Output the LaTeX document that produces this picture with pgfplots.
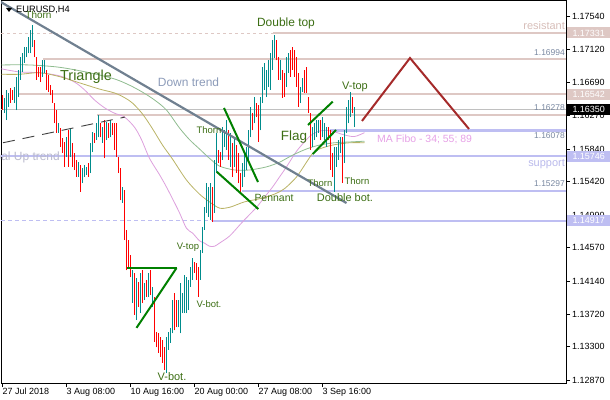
\documentclass[border=0pt]{standalone}
\usepackage{fontspec}
\setmainfont{Liberation Sans}
\usepackage{pgfplots}
\usepackage{pgfplotstable}
\pgfplotsset{compat=1.18}

\newcommand{\fs}[1]{\fontsize{#1}{#1}\selectfont}

\definecolor{bull}{RGB}{0,140,140}
\definecolor{bear}{RGB}{255,0,0}
\definecolor{levpink}{RGB}{222,200,196}
\definecolor{levlav}{RGB}{190,190,242}
\definecolor{bidgrey}{RGB}{192,192,192}
\definecolor{maplum}{RGB}{221,160,221}
\definecolor{maolive}{RGB}{185,178,100}
\definecolor{magreen}{RGB}{143,188,143}
\definecolor{trendgrey}{RGB}{112,128,144}
\definecolor{dashgrey}{RGB}{64,64,64}
\definecolor{patgreen}{RGB}{0,128,0}
\definecolor{zigzag}{RGB}{165,42,42}
\definecolor{labelgreen}{RGB}{60,110,20}
\definecolor{trendtext}{RGB}{140,155,185}
\definecolor{pricetext}{RGB}{120,135,160}
\definecolor{restext}{RGB}{215,190,185}
\definecolor{suptext}{RGB}{185,185,235}
\definecolor{matext}{RGB}{230,160,230}
\definecolor{uptext}{RGB}{185,185,205}

% H4 bars: index, low, high
\pgfplotstableread{
i lo hi
1 1.1630 1.1650
2 1.1621 1.1660
3 1.1638 1.1656
6 1.1643 1.1664
7 1.1634 1.1677
8 1.1651 1.1686
9 1.1673 1.1702
10 1.1683 1.1707
11 1.1695 1.1715
12 1.1702 1.1715
13 1.1707 1.1728
14 1.1707 1.1737
15 1.1715 1.1743
20 1.1677 1.1698
21 1.1682 1.1698
28 1.1605 1.1617
32 1.1574 1.1599
34 1.1574 1.1611
38 1.1548 1.1567
40 1.1540 1.1560
41 1.1548 1.1563
42 1.1551 1.1561
44 1.1553 1.1592
45 1.1580 1.1606
47 1.1596 1.1617
48 1.1599 1.1628
50 1.1592 1.1612
52 1.1596 1.1619
54 1.1599 1.1621
60 1.1515 1.1535
65 1.1386 1.1428
67 1.1364 1.1418
69 1.1373 1.1425
71 1.1390 1.1412
73 1.1394 1.1425
75 1.1381 1.1407
82 1.1296 1.1342
83 1.1326 1.1349
84 1.1335 1.1354
85 1.1347 1.1390
88 1.1355 1.1390
89 1.1347 1.1412
90 1.1373 1.1399
91 1.1373 1.1422
92 1.1373 1.1419
93 1.1377 1.1416
94 1.1407 1.1432
95 1.1416 1.1444
99 1.1416 1.1454
100 1.1450 1.1484
101 1.1480 1.1509
102 1.1502 1.1540
103 1.1497 1.1535
104 1.1493 1.1540
106 1.1502 1.1570
107 1.1554 1.1605
110 1.1570 1.1612
111 1.1587 1.1608
112 1.1583 1.1621
114 1.1561 1.1605
116 1.1561 1.1599
120 1.1535 1.1566
121 1.1548 1.1579
122 1.1557 1.1587
123 1.1570 1.1608
124 1.1599 1.1638
126 1.1617 1.1651
129 1.1608 1.1651
130 1.1643 1.1689
131 1.1660 1.1695
132 1.1651 1.1686
133 1.1664 1.1698
134 1.1660 1.1707
135 1.1686 1.1724
136 1.1701 1.1730
139 1.1673 1.1698
142 1.1664 1.1702
143 1.1682 1.1707
149 1.1643 1.1664
150 1.1657 1.1675
155 1.1587 1.1612
156 1.1596 1.1617
157 1.1599 1.1621
158 1.1605 1.1621
160 1.1599 1.1625
161 1.1596 1.1617
162 1.1587 1.1612
166 1.1529 1.1587
167 1.1561 1.1587
168 1.1570 1.1596
169 1.1579 1.1599
171 1.1566 1.1608
172 1.1605 1.1638
173 1.1617 1.1647
174 1.1625 1.1657
176 1.1612 1.1638
}\bulldata

\pgfplotstableread{
i lo hi
0 1.1634 1.1653
4 1.1643 1.1662
5 1.1647 1.1660
16 1.1702 1.1724
17 1.1673 1.1702
18 1.1677 1.1689
19 1.1670 1.1689
22 1.1660 1.1686
23 1.1657 1.1679
24 1.1653 1.1666
25 1.1643 1.1660
26 1.1617 1.1643
27 1.1605 1.1634
29 1.1587 1.1611
30 1.1579 1.1598
31 1.1561 1.1593
33 1.1561 1.1608
35 1.1561 1.1592
36 1.1557 1.1579
37 1.1548 1.1570
39 1.1529 1.1563
43 1.1548 1.1566
46 1.1592 1.1605
49 1.1599 1.1617
51 1.1572 1.1621
53 1.1598 1.1617
55 1.1602 1.1617
56 1.1583 1.1617
57 1.1574 1.1617
58 1.1553 1.1574
59 1.1518 1.1560
61 1.1467 1.1531
62 1.1428 1.1480
63 1.1431 1.1467
64 1.1419 1.1448
66 1.1371 1.1425
68 1.1381 1.1413
70 1.1386 1.1428
72 1.1394 1.1416
74 1.1396 1.1428
76 1.1336 1.1394
77 1.1329 1.1349
78 1.1322 1.1347
79 1.1317 1.1342
80 1.1309 1.1338
81 1.1300 1.1329
86 1.1351 1.1399
87 1.1355 1.1390
96 1.1425 1.1439
97 1.1416 1.1437
98 1.1394 1.1432
105 1.1490 1.1535
108 1.1566 1.1583
109 1.1561 1.1580
113 1.1570 1.1608
115 1.1548 1.1592
117 1.1553 1.1589
118 1.1540 1.1579
119 1.1527 1.1553
125 1.1608 1.1630
127 1.1625 1.1643
128 1.1593 1.1641
137 1.1698 1.1724
138 1.1673 1.1702
140 1.1650 1.1686
141 1.1651 1.1682
144 1.1677 1.1711
145 1.1686 1.1715
146 1.1677 1.1711
147 1.1664 1.1702
148 1.1638 1.1682
151 1.1656 1.1686
152 1.1656 1.1689
153 1.1630 1.1651
154 1.1583 1.1630
159 1.1596 1.1621
163 1.1596 1.1612
164 1.1557 1.1608
165 1.1548 1.1579
170 1.1540 1.1599
175 1.1630 1.1651
}\beardata

\begin{document}
\begin{tikzpicture}
\path[use as bounding box] (0,0) rectangle (610bp,400bp);
\begin{axis}[
  at={(1bp,17bp)}, anchor=south west,
  scale only axis, width=565bp, height=382bp,
  xmin=-0.75, xmax=281.75, ymin=1.12832, ymax=1.17742,
  clip mode=individual,
  axis line style={black, line width=1bp},
  tick align=outside,
  major tick length=4bp,
  tick style={black, line width=0.8bp},
  xtick pos=left, ytick pos=right, yticklabel pos=right,
  xtick={0,32,64,96,128,160},
  xticklabels={27 Jul 2018, 3 Aug 08:00, 10 Aug 16:00, 20 Aug 00:00, 27 Aug 08:00, 3 Sep 16:00},
  xticklabel style={anchor=north west, xshift=-1bp, font=\fs{9}, inner sep=1bp},
  ytick={1.12870,1.13300,1.13720,1.14140,1.14570,1.14990,1.15420,1.15840,1.16270,1.16690,1.17120,1.17540},
  yticklabels={1.12870,1.13300,1.13720,1.14140,1.14570,1.14990,1.15420,1.15840,1.16270,1.16690,1.17120,1.17540},
  yticklabel style={anchor=west, font=\fs{9}, inner sep=1bp, xshift=1bp},
  scaled y ticks=false,
]
% price levels
\addplot[levpink, line width=0.8bp, dash pattern=on 3bp off 3bp] coordinates {(-0.75,1.17331) (135.25,1.17331)};
\addplot[levpink, line width=2.2bp] coordinates {(135.25,1.17331) (281.75,1.17331)};
\addplot[levpink, line width=2.2bp] coordinates {(20.25,1.16994) (281.75,1.16994)};
\addplot[levpink, line width=2.2bp] coordinates {(7.75,1.16542) (281.75,1.16542)};
\addplot[levpink, line width=2.2bp] coordinates {(47.25,1.16278) (281.75,1.16278)};
\addplot[bidgrey, line width=0.8bp] coordinates {(-0.75,1.16350) (281.75,1.16350)};
\addplot[levlav, line width=2.2bp] coordinates {(163.75,1.16078) (281.75,1.16078)};
\addplot[levlav, line width=2.2bp] coordinates {(-0.75,1.15746) (281.75,1.15746)};
\addplot[levlav, line width=2.2bp] coordinates {(119.75,1.15297) (281.75,1.15297)};
\addplot[levlav, line width=0.8bp, dash pattern=on 4bp off 3bp] coordinates {(-0.75,1.14917) (104.75,1.14917)};
\addplot[levlav, line width=2.2bp] coordinates {(104.75,1.14917) (281.75,1.14917)};

% moving averages 34, 55, 89
\addplot[maplum, line width=0.8bp, smooth, tension=0.5] coordinates {
(-0.5,1.1687) (8.5,1.1683) (18.5,1.1682) (28.5,1.1678) (36,1.1670) (41,1.1660) (46,1.1647) (51,1.1637) (56,1.1630) (61,1.1625) (66,1.1612) (69.5,1.1596) (73.5,1.1572) (78.5,1.1551) (82,1.1535) (86,1.1515) (88.5,1.1502) (92,1.1482) (95,1.1476) (98.5,1.1466) (101,1.1463) (103.5,1.1459) (106,1.1459) (108.5,1.1463) (113.5,1.1472) (118.5,1.1486) (121,1.1493) (127,1.1509) (131,1.1522) (135,1.1535) (138.5,1.1548) (142,1.1561) (147,1.1581) (152,1.1596) (155,1.1603) (158.5,1.1607) (162,1.1608) (166,1.1606) (171,1.1602) (176,1.1600) (181,1.1605)};
\addplot[maolive, line width=0.8bp, smooth, tension=0.5] coordinates {
(-0.5,1.1680) (8.5,1.1680) (18.5,1.1682) (28.5,1.1677) (38.5,1.1669) (48.5,1.1661) (56,1.1656) (61,1.1650) (65,1.1643) (70,1.1629) (75,1.1610) (80,1.1589) (85,1.1571) (92,1.1544) (98.5,1.1526) (103.5,1.1516) (108.5,1.1508) (113.5,1.1509) (121,1.1516) (128.5,1.1520) (136,1.1526) (141,1.1533) (147,1.1548) (152,1.1567) (155,1.1578) (158.5,1.1584) (165,1.1589) (173.5,1.1592) (181,1.1592)};
\addplot[magreen, line width=0.8bp, smooth, tension=0.5] coordinates {
(-0.5,1.1692) (13.5,1.1692) (28.5,1.1689) (43.5,1.1682) (56,1.1674) (63.5,1.1666) (70,1.1657) (76,1.1647) (82,1.1634) (88.5,1.1611) (93.5,1.1596) (98.5,1.1584) (103.5,1.1572) (108.5,1.1562) (116,1.1557) (123.5,1.1557) (132,1.1561) (138.5,1.1567) (145,1.1576) (152,1.1584) (158.5,1.1589) (166,1.1592) (173.5,1.1593) (181,1.1594)};

% bars: low-to-high lines
\addplot[draw=none, mark=none, forget plot,
  error bars/.cd, y dir=plus, y explicit, error mark=none,
  error bar style={draw=bull, line width=1.4bp}]
  table[x=i, y=lo, y error expr=\thisrow{hi}-\thisrow{lo}] {\bulldata};
\addplot[draw=none, mark=none, forget plot,
  error bars/.cd, y dir=plus, y explicit, error mark=none,
  error bar style={draw=bear, line width=1.4bp}]
  table[x=i, y=lo, y error expr=\thisrow{hi}-\thisrow{lo}] {\beardata};

% trend lines and patterns
\addplot[trendgrey, line width=2.2bp] coordinates {(-2,1.17746) (172,1.15145)};
\addplot[dashgrey, line width=0.9bp, dash pattern=on 12bp off 8bp] coordinates {(0.25,1.1592) (61.25,1.1625)};
\addplot[patgreen, line width=2bp] coordinates {(62.25,1.1431) (87,1.1431)};
\addplot[patgreen, line width=2bp] coordinates {(67,1.1354) (87,1.1431)};
\addplot[patgreen, line width=2bp] coordinates {(110.75,1.16367) (127.75,1.15415)};
\addplot[patgreen, line width=2bp] coordinates {(107.1,1.15548) (127.9,1.15068)};
\addplot[patgreen, line width=2bp] coordinates {(152.75,1.16148) (165.1,1.16448)};
\addplot[patgreen, line width=2bp] coordinates {(155.1,1.15775) (166.75,1.16084)};
\addplot[zigzag, line width=2bp] coordinates {(179.75,1.16200) (203.75,1.17009) (233.25,1.16097)};

% annotations
\tikzset{lbl/.style={text=labelgreen, inner sep=0}}
\node[lbl, font=\fs{10}] at (axis cs:18,1.17562) {Thorn};
\node[lbl, font=\fs{14.5}] at (axis cs:41.75,1.16765) {Triangle};
\node[text=trendtext, inner sep=0, font=\fs{12}] at (axis cs:93,1.16701) {Down trend};
\node[text=uptext, inner sep=0, font=\fs{12}, anchor=east] at (axis cs:28.75,1.15737) {Global Up trend};
\node[lbl, font=\fs{12}] at (axis cs:141.75,1.17459) {Double top};
\node[lbl, font=\fs{11}] at (axis cs:176.25,1.16637) {V-top};
\node[lbl, font=\fs{13.5}] at (axis cs:145.75,1.15994) {Flag};
\node[lbl, font=\fs{9.5}] at (axis cs:103.25,1.16084) {Thorn};
\node[lbl, font=\fs{10.5}] at (axis cs:135.75,1.15210) {Pennant};
\node[lbl, font=\fs{9.5}] at (axis cs:158.75,1.15402) {Thorn};
\node[lbl, font=\fs{9.5}] at (axis cs:177.25,1.15428) {Thorn};
\node[lbl, font=\fs{11}] at (axis cs:171.25,1.15210) {Double bot.};
\node[lbl, font=\fs{9.5}] at (axis cs:92.75,1.14580) {V-top};
\node[lbl, font=\fs{9.5}] at (axis cs:103.25,1.13847) {V-bot.};
\node[lbl, font=\fs{11}] at (axis cs:84.75,1.12909) {V-bot.};
\node[text=restext, inner sep=0, font=\fs{11}, anchor=east] at (axis cs:281.25,1.17421) {resistant};
\node[text=suptext, inner sep=0, font=\fs{11}, anchor=east] at (axis cs:281.25,1.15647) {support};
\node[text=matext, inner sep=0, font=\fs{10.5}, anchor=west] at (axis cs:187.25,1.15968) {MA Fibo - 34; 55; 89};
\node[text=pricetext, inner sep=0, font=\fs{8.5}, anchor=east] at (axis cs:281.25,1.17074) {1.16994};
\node[text=pricetext, inner sep=0, font=\fs{8.5}, anchor=east] at (axis cs:281.25,1.16367) {1.16278};
\node[text=pricetext, inner sep=0, font=\fs{8.5}, anchor=east] at (axis cs:281.25,1.16007) {1.16078};
\node[text=pricetext, inner sep=0, font=\fs{8.5}, anchor=east] at (axis cs:281.25,1.15390) {1.15297};

\coordinate (p1) at (axis cs:281.75,1.17331);
\coordinate (p2) at (axis cs:281.75,1.16542);
\coordinate (p3) at (axis cs:281.75,1.16350);
\coordinate (p4) at (axis cs:281.75,1.15746);
\coordinate (p5) at (axis cs:281.75,1.14917);
\end{axis}

% price tags on the right scale
\tikzset{tag/.style={anchor=west, xshift=1bp, inner sep=0, minimum width=43bp, minimum height=11bp, text=white, font=\fs{9}}}
\node[tag, fill=levpink] at (p1) {1.17331};
\node[tag, fill=levpink] at (p2) {1.16542};
\node[tag, fill=black] at (p3) {1.16350};
\node[tag, fill=levlav] at (p4) {1.15746};
\node[tag, fill=levlav] at (p5) {1.14917};

% symbol header
\fill[black] (6bp,392bp) -- (12bp,392bp) -- (9bp,388bp) -- cycle;
\node[anchor=west, inner sep=0, font=\fs{9.3}] at (16bp,390bp) {EURUSD,H4};
\end{tikzpicture}
\end{document}
